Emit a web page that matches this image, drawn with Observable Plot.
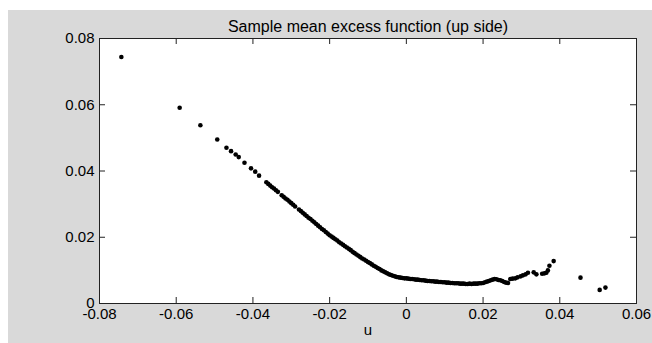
<!DOCTYPE html>
<html><head><meta charset="utf-8">
<script src="https://cdn.jsdelivr.net/npm/d3@7"></script>
<script src="https://cdn.jsdelivr.net/npm/@observablehq/plot@0.6"></script>
<style>
html,body{margin:0;padding:0;background:#fff;}
#wrap{position:relative;width:652px;height:343px;overflow:hidden;font-family:"Liberation Sans",Arial,sans-serif;}
#bg{position:absolute;left:8px;top:10px;width:644px;height:333px;background:#d9d9d9;}
#chart{position:absolute;left:0;top:0;}
</style></head><body>
<div id="wrap"><div id="bg"></div><div id="chart"></div></div>
<script>
const title = "Sample mean excess function (up side)";
const xLabel = "u";
const xTicks = [-0.08, -0.06, -0.04, -0.02, 0, 0.02, 0.04, 0.06];
const yTicks = [0, 0.02, 0.04, 0.06, 0.08];

// sparse low tail
const uLow = [-0.0743, -0.0591, -0.0537, -0.0493, -0.0469, -0.0457, -0.0445, -0.0437, -0.0422, -0.0405, -0.0394, -0.0384];
const eLow = [0.0744, 0.0591, 0.0538, 0.0495, 0.0470, 0.0460, 0.0450, 0.0442, 0.0425, 0.0408, 0.0398, 0.0386];

// dense middle
const uMid = [
-0.0365,-0.0360,-0.0355,-0.0350,-0.0345,-0.0340,-0.0335,
-0.0325,-0.0320,-0.0315,-0.0310,-0.0305,-0.0300,-0.0295,-0.0290,
-0.0280,-0.0275,-0.0270,-0.0265,-0.0260,-0.0255,-0.0250,-0.0245,-0.0240,-0.0235,-0.0230,-0.0225,-0.0220,-0.0215,-0.0210,-0.0205,-0.0200,
-0.0195,-0.0190,-0.0185,-0.0180,-0.0175,-0.0170,-0.0165,-0.0160,-0.0155,-0.0150,-0.0145,-0.0140,-0.0135,-0.0130,-0.0125,-0.0120,
-0.0115,-0.0110,-0.0105,-0.0100,-0.0095,-0.0090,-0.0085,-0.0080,-0.0075,-0.0070,-0.0065,-0.0060,
-0.0055,-0.0050,-0.0045,-0.0040,-0.0035,-0.0030,-0.0025,-0.0020,-0.0015,-0.0010,-0.0005,0.0000,
0.0005,0.0010,0.0015,0.0020,0.0025,0.0030,0.0035,0.0040,0.0045,0.0050,0.0055,0.0060,0.0065,0.0070,0.0075,0.0080,0.0085,0.0090,0.0095,0.0100,
0.0105,0.0110,0.0115,0.0120,0.0125,0.0130,0.0135,0.0140,0.0145,0.0150,0.0155,0.0160,0.0165,0.0170,0.0175,0.0180,0.0185,0.0190,0.0195,0.0200,
0.0205,0.0210,0.0215,0.0220,0.0225,0.0230,0.0235,0.0240,0.0245,0.0250,0.0255,0.0260];
const eMid = [
0.0366,0.0361,0.0356,0.0351,0.0347,0.0342,0.0337,
0.0327,0.0322,0.0317,0.0313,0.0308,0.0303,0.0298,0.0293,
0.0284,0.0279,0.0274,0.0269,0.0264,0.0259,0.0255,0.0250,0.0245,0.0240,0.0235,0.0230,0.0225,0.0221,0.0216,0.0211,0.0206,
0.0202,0.0198,0.0194,0.0190,0.0185,0.0181,0.0177,0.0173,0.0169,0.0165,0.0161,0.0156,0.0152,0.0148,0.0144,0.0140,
0.0136,0.0133,0.0129,0.0125,0.0122,0.0118,0.0114,0.0111,0.0107,0.0104,0.0100,0.0097,
0.0094,0.0091,0.0088,0.0086,0.0084,0.0082,0.0080,0.0079,0.0078,0.0077,0.0076,0.0076,
0.0075,0.0074,0.0074,0.0073,0.0072,0.0072,0.0071,0.0070,0.0070,0.0069,0.0068,0.0068,0.0067,0.0067,0.0066,0.0066,0.0065,0.0065,0.0064,0.0064,
0.0063,0.0063,0.0062,0.0062,0.0061,0.0061,0.0061,0.0060,0.0060,0.0060,0.0059,0.0059,0.0060,0.0059,0.0060,0.0060,0.0060,0.0061,0.0061,0.0062,
0.0064,0.0066,0.0068,0.0070,0.0072,0.0074,0.0073,0.0071,0.0070,0.0068,0.0065,0.0063];

// sparse high tail
const uHigh = [0.0265,0.0271,0.0277,0.0284,0.0290,0.0298,0.0304,0.0311,0.0317,0.0332,0.0339,0.0354,0.0360,0.0365,0.0369,0.0373,0.0384,0.0454,0.0504,0.0519];
const eHigh = [0.0062,0.0074,0.0075,0.0076,0.0079,0.0082,0.0085,0.0088,0.0093,0.0094,0.0088,0.0090,0.0091,0.0093,0.0100,0.0114,0.0128,0.0078,0.0041,0.0048];

const points = [];
[[uLow, eLow], [uMid, eMid], [uHigh, eHigh]].forEach(([us, es]) => us.forEach((u, i) => points.push({u, e: es[i]})));

const fmt = d => d === 0 ? "0" : d.toFixed(2);
const font = "Liberation Sans, Arial, Helvetica, sans-serif";

const chart = Plot.plot({
  width: 652, height: 343,
  marginLeft: 99, marginRight: 16, marginTop: 38, marginBottom: 40,
  style: {background: "transparent", fontFamily: font, fontSize: "15px", color: "black", overflow: "visible"},
  x: {domain: [-0.08, 0.06]},
  y: {domain: [0, 0.08]},
  marks: [
    Plot.frame({fill: "white", stroke: null}),
    Plot.dot(points, {x: "u", y: "e", r: 2.3, fill: "black", stroke: null}),
    Plot.tickX(xTicks, {x: d => d, insetTop: 259, stroke: "#222"}),
    Plot.tickX(xTicks, {x: d => d, insetBottom: 259, stroke: "#222"}),
    Plot.tickY(yTicks, {y: d => d, insetRight: 531, stroke: "#222"}),
    Plot.tickY(yTicks, {y: d => d, insetLeft: 531, stroke: "#222"}),
    Plot.frame({stroke: "#222", fill: null}),
    Plot.axisX(xTicks, {anchor: "bottom", tickSize: 0, tickPadding: 5, tickFormat: fmt, label: null, fontSize: 15, fill: "black"}),
    Plot.axisY(yTicks, {anchor: "left", tickSize: 0, tickPadding: 5, tickFormat: fmt, label: null, fontSize: 15, fill: "black"}),
    Plot.text([title], {text: d => d, frameAnchor: "top", dy: -18, fontSize: 16, fill: "black"}),
    Plot.text([xLabel], {text: d => d, frameAnchor: "bottom", dy: 31, fontSize: 15, fill: "black"})
  ]
});
document.getElementById("chart").appendChild(chart);
</script>
</body></html>
